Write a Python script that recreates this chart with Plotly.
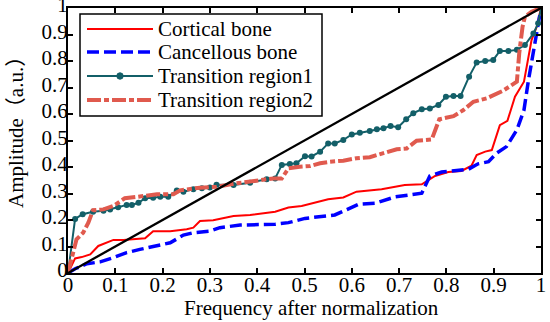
import plotly.graph_objects as go

# ---- data ----
cort_x = [0, 0.015, 0.029, 0.047, 0.064, 0.096, 0.117, 0.163, 0.18, 0.216, 0.251, 0.265, 0.279, 0.307,
          0.35, 0.385, 0.438, 0.466, 0.494, 0.515, 0.55, 0.582, 0.61, 0.663, 0.712, 0.748, 0.776, 0.804,
          0.832, 0.853, 0.864, 0.882, 0.896, 0.913, 0.929, 0.945, 0.964, 0.98, 0.991, 1]
cort_y = [0, 0.055, 0.06, 0.07, 0.102, 0.125, 0.125, 0.131, 0.158, 0.158, 0.165, 0.171, 0.196, 0.199,
          0.215, 0.219, 0.231, 0.247, 0.253, 0.262, 0.278, 0.285, 0.307, 0.316, 0.332, 0.335, 0.366, 0.381,
          0.385, 0.405, 0.445, 0.458, 0.464, 0.558, 0.574, 0.665, 0.722, 0.879, 0.929, 1]

canc_x = [0, 0.015, 0.04, 0.068, 0.096, 0.124, 0.152, 0.188, 0.216, 0.244, 0.265, 0.3, 0.321, 0.364,
          0.406, 0.438, 0.466, 0.501, 0.564, 0.614, 0.649, 0.691, 0.748, 0.765, 0.79, 0.818, 0.846,
          0.867, 0.889, 0.906, 0.927, 0.949, 0.964, 0.973, 0.984, 0.994, 1]
canc_y = [0, 0.016, 0.035, 0.042, 0.058, 0.077, 0.089, 0.102, 0.114, 0.143, 0.152, 0.158, 0.171, 0.181,
          0.184, 0.184, 0.19, 0.206, 0.219, 0.259, 0.263, 0.287, 0.301, 0.366, 0.381, 0.385, 0.391,
          0.412, 0.42, 0.452, 0.477, 0.54, 0.615, 0.722, 0.829, 0.929, 1]

tr1_x = [0, 0.015, 0.031, 0.053, 0.075, 0.089, 0.106, 0.124, 0.135, 0.149, 0.163, 0.18, 0.195, 0.212,
         0.23, 0.244, 0.265, 0.283, 0.3, 0.314, 0.35, 0.385, 0.42, 0.438, 0.452, 0.469, 0.483, 0.501,
         0.515, 0.533, 0.55, 0.564, 0.582, 0.6, 0.617, 0.638, 0.653, 0.667, 0.682, 0.698, 0.715, 0.73,
         0.748, 0.765, 0.783, 0.799, 0.815, 0.83, 0.848, 0.864, 0.882, 0.899, 0.913, 0.931, 0.949,
         0.966, 0.984, 0.994, 1]
tr1_y = [0, 0.204, 0.222, 0.231, 0.235, 0.24, 0.248, 0.257, 0.257, 0.265, 0.282, 0.284, 0.288, 0.288,
         0.311, 0.307, 0.316, 0.32, 0.323, 0.333, 0.332, 0.341, 0.354, 0.357, 0.408, 0.411, 0.414, 0.441,
         0.44, 0.458, 0.489, 0.489, 0.502, 0.523, 0.529, 0.536, 0.542, 0.546, 0.555, 0.55, 0.58, 0.603,
         0.618, 0.621, 0.634, 0.665, 0.668, 0.668, 0.741, 0.794, 0.8, 0.804, 0.838, 0.838, 0.842,
         0.86, 0.904, 0.942, 1]

tr2_x = [0, 0.008, 0.018, 0.032, 0.043, 0.053, 0.075, 0.096, 0.12, 0.145, 0.188, 0.223, 0.237, 0.279,
         0.314, 0.35, 0.385, 0.434, 0.452, 0.466, 0.49, 0.512, 0.533, 0.554, 0.582, 0.61, 0.638, 0.667,
         0.695, 0.716, 0.737, 0.769, 0.785, 0.815, 0.836, 0.857, 0.885, 0.92, 0.949, 0.954, 0.961,
         0.966, 0.98, 1]
tr2_y = [0, 0.058, 0.127, 0.152, 0.19, 0.237, 0.24, 0.253, 0.282, 0.287, 0.297, 0.297, 0.312, 0.322,
         0.325, 0.337, 0.345, 0.357, 0.357, 0.395, 0.401, 0.404, 0.414, 0.42, 0.424, 0.433, 0.437, 0.452,
         0.467, 0.47, 0.499, 0.504, 0.58, 0.592, 0.615, 0.646, 0.659, 0.688, 0.722, 0.829, 0.929,
         0.967, 0.986, 1]

diag_x = [0, 1]
diag_y = [0, 1]

tick_vals = [0, 0.1, 0.2, 0.3, 0.4, 0.5, 0.6, 0.7, 0.8, 0.9, 1]
tick_text = ["0", "0.1", "0.2", "0.3", "0.4", "0.5", "0.6", "0.7", "0.8", "0.9", "1"]

series_names = ["Cortical bone", "Cancellous bone", "Transition region1", "Transition region2"]
x_title = "Frequency after normalization"
y_title = "Amplitude（a.u.）"

FONT = "Liberation Serif, Times New Roman, Noto Sans CJK SC, serif"
TEAL = "#135f68"
SALMON = "#e05a4e"
styles = [
    dict(color="#ff0000", width=2, dash="solid"),
    dict(color="#0000ff", width=3.5, dash="12px,5px"),
    dict(color=TEAL, width=2, dash="solid"),
    dict(color=SALMON, width=4, dash="14px,3px,5px,3px"),
]

# geometry (window pixels)
W, H = 550, 322
PLOT_L, PLOT_R, PLOT_T, PLOT_B = 68, 541, 8, 273
ML, MR, MT, MB = PLOT_L, W - PLOT_R, PLOT_T, H - PLOT_B
PW, PH = PLOT_R - PLOT_L, PLOT_B - PLOT_T


def px_x(p):
    return (p - PLOT_L) / PW


def px_y(p):
    return (PLOT_B - p) / PH


fig = go.Figure()
fig.add_trace(go.Scatter(x=cort_x, y=cort_y, mode="lines", name=series_names[0],
                         line=styles[0], showlegend=False))
fig.add_trace(go.Scatter(x=canc_x, y=canc_y, mode="lines", name=series_names[1],
                         line=styles[1], showlegend=False))
fig.add_trace(go.Scatter(x=tr1_x, y=tr1_y, mode="lines+markers", name=series_names[2],
                         line=styles[2], marker=dict(color=TEAL, size=6, symbol="circle"),
                         showlegend=False))
fig.add_trace(go.Scatter(x=tr2_x, y=tr2_y, mode="lines", name=series_names[3],
                         line=styles[3], showlegend=False))
fig.add_trace(go.Scatter(x=diag_x, y=diag_y, mode="lines", showlegend=False,
                         line=dict(color="black", width=2.3)))

axis_common = dict(range=[0, 1], tickvals=tick_vals, ticktext=tick_text,
                   ticks="inside", ticklen=5, tickwidth=1.5, tickcolor="black",
                   showline=True, linecolor="black", linewidth=2, mirror="ticks",
                   showgrid=False, zeroline=False, automargin=False,
                   ticklabeloverflow="allow",
                   tickfont=dict(family=FONT, size=21, color="black"))

# legend box drawn in paper space
shapes = [dict(type="rect", xref="paper", yref="paper", layer="above",
               x0=px_x(80), x1=px_x(322), y0=px_y(116), y1=px_y(14),
               line=dict(color="black", width=1.5), fillcolor="white")]
annotations = []
row_centers = [29, 52, 76, 100]
for name, st, rc in zip(series_names, styles, row_centers):
    shapes.append(dict(type="line", xref="paper", yref="paper", layer="above",
                       x0=px_x(87), x1=px_x(153), y0=px_y(rc), y1=px_y(rc),
                       line=dict(color=st["color"], width=st["width"], dash=st["dash"])))
    annotations.append(dict(text=name, xref="paper", yref="paper", x=px_x(156), y=px_y(rc),
                            xanchor="left", yanchor="middle", showarrow=False,
                            font=dict(family=FONT, size=21, color="black")))
# marker in legend key for Transition region1
shapes.append(dict(type="circle", xref="paper", yref="paper", layer="above",
                   xsizemode="pixel", ysizemode="pixel",
                   xanchor=px_x(120), yanchor=px_y(row_centers[2]),
                   x0=-3.2, x1=3.2, y0=-3.2, y1=3.2,
                   line=dict(color=TEAL, width=1), fillcolor=TEAL))

annotations.append(dict(text=x_title, xref="paper", yref="paper", x=px_x(311.5), y=px_y(308),
                        xanchor="center", yanchor="middle", showarrow=False,
                        font=dict(family=FONT, size=21, color="black")))
annotations.append(dict(text=y_title, xref="paper", yref="paper", x=px_x(16), y=px_y(127),
                        xanchor="center", yanchor="middle", showarrow=False, textangle=-90,
                        font=dict(family=FONT, size=21, color="black")))

fig.update_layout(
    width=W, height=H,
    margin=dict(l=ML, r=MR, t=MT, b=MB, pad=0),
    paper_bgcolor="white", plot_bgcolor="white",
    font=dict(family=FONT, size=21, color="black"),
    xaxis=dict(**axis_common, ticklabelstandoff=-8),
    yaxis=dict(**axis_common, ticklabelstandoff=-6, ticklabelshift=-3),
    shapes=shapes,
    annotations=annotations,
    showlegend=False,
)

# remove the default page margin so the figure fills the window exactly
fig.write_html("out.html", config={"displayModeBar": False},
               post_script="document.body.style.margin='0px';document.body.style.overflow='hidden';")
